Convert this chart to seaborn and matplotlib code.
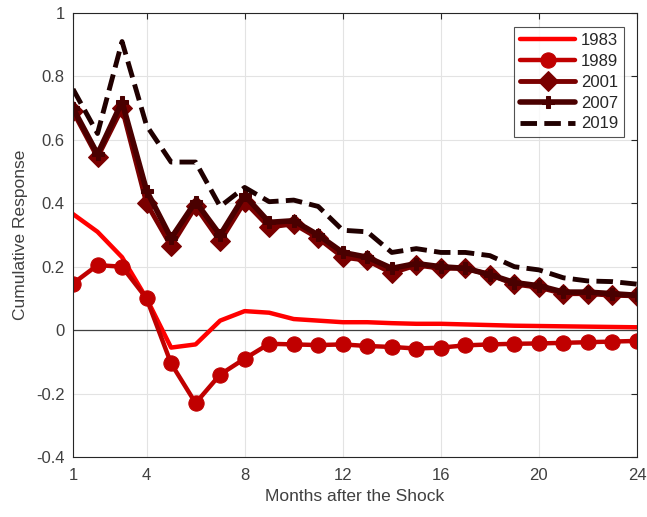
import numpy as np
import pandas as pd
import matplotlib
matplotlib.use("Agg")
import matplotlib.pyplot as plt
import seaborn as sns

months = list(range(1, 25))
r1983 = [0.366, 0.31, 0.23, 0.10, -0.055, -0.045, 0.03, 0.06, 0.055, 0.035, 0.03, 0.025,
         0.025, 0.022, 0.02, 0.02, 0.018, 0.016, 0.014, 0.013, 0.012, 0.011, 0.010, 0.009]
r1989 = [0.147, 0.205, 0.20, 0.10, -0.105, -0.23, -0.14, -0.09, -0.043, -0.045, -0.047, -0.045,
         -0.05, -0.053, -0.058, -0.055, -0.048, -0.045, -0.043, -0.042, -0.040, -0.038, -0.036, -0.034]
r2001 = [0.69, 0.545, 0.70, 0.40, 0.265, 0.39, 0.28, 0.405, 0.325, 0.335, 0.29, 0.23,
         0.22, 0.18, 0.205, 0.195, 0.195, 0.175, 0.145, 0.135, 0.115, 0.115, 0.11, 0.108]
r2007 = [0.70, 0.555, 0.72, 0.44, 0.29, 0.405, 0.30, 0.425, 0.34, 0.345, 0.30, 0.245,
         0.23, 0.195, 0.21, 0.20, 0.195, 0.175, 0.15, 0.14, 0.12, 0.12, 0.115, 0.11]
r2019 = [0.76, 0.62, 0.91, 0.645, 0.53, 0.53, 0.39, 0.45, 0.405, 0.41, 0.39, 0.315,
         0.31, 0.245, 0.257, 0.245, 0.245, 0.235, 0.20, 0.19, 0.165, 0.155, 0.153, 0.145]
years = ["1983", "1989", "2001", "2007", "2019"]
xticks = [1, 4, 8, 12, 16, 20, 24]
yticks = [-0.4, -0.2, 0, 0.2, 0.4, 0.6, 0.8, 1]
ytick_labels = ["-0.4", "-0.2", "0", "0.2", "0.4", "0.6", "0.8", "1"]

sns.set_theme(style="white")
plt.rcParams["font.family"] = ["Liberation Sans", "DejaVu Sans"]

fig = plt.figure(figsize=(6.47, 5.17), dpi=100)
ax = fig.add_axes([73/647, 1-457/517, (637-73)/647, (457-13)/517])

styles = {
    "1983": dict(color="#FF0000", lw=3.2, marker=None, ls="-", ms=0),
    "1989": dict(color="#C00000", lw=3.2, marker="o", ls="-", ms=11),
    "2001": dict(color="#7A0000", lw=3.5, marker="D", ls="-", ms=10),
    "2007": dict(color="#4A0000", lw=4.0, marker="P", ls="-", ms=8),
    "2019": dict(color="#200000", lw=3.5, marker=None, ls=(0, (3.4, 1.5)), ms=0),
}
series = [r1983, r1989, r2001, r2007, r2019]
for yr, vals in zip(years, series):
    st = styles[yr]
    df = pd.DataFrame({"month": months, "resp": vals})
    sns.lineplot(data=df, x="month", y="resp", ax=ax, color=st["color"], lw=st["lw"],
                 marker=st["marker"], markersize=st["ms"], linestyle=st["ls"],
                 markeredgecolor=st["color"], markerfacecolor=st["color"], label=yr)

ax.axhline(0, color="#404040", lw=0.9, zorder=1.5)
ax.set_xlim(1, 24)
ax.set_ylim(-0.4, 1)
ax.set_xticks(xticks)
ax.set_yticks(yticks)
ax.set_yticklabels(ytick_labels)
ax.grid(True, color="#E3E3E3", lw=0.8)
ax.set_axisbelow(True)
for s in ax.spines.values():
    s.set_color("#262626")
    s.set_linewidth(0.8)
ax.tick_params(direction="in", length=4, width=0.8, colors="#262626", labelsize=12,
               top=True, right=True, labelcolor="#404040")
ax.tick_params(axis="x", pad=8)
ax.tick_params(axis="y", pad=6)
ax.set_xlabel("Months after the Shock", fontsize=12.5, color="#404040", labelpad=4)
ax.set_ylabel("Cumulative Response", fontsize=12.5, color="#404040", labelpad=6)
leg = ax.legend(loc="upper right", bbox_to_anchor=(0.977, 0.968), borderaxespad=0,
                fontsize=12, frameon=True, fancybox=False, edgecolor="#262626",
                handlelength=3.3, borderpad=0.35, labelspacing=0.35, handletextpad=0.35)
leg.get_frame().set_linewidth(0.8)
for t in leg.get_texts():
    t.set_color("#262626")

fig.savefig("out.png", dpi=100)
